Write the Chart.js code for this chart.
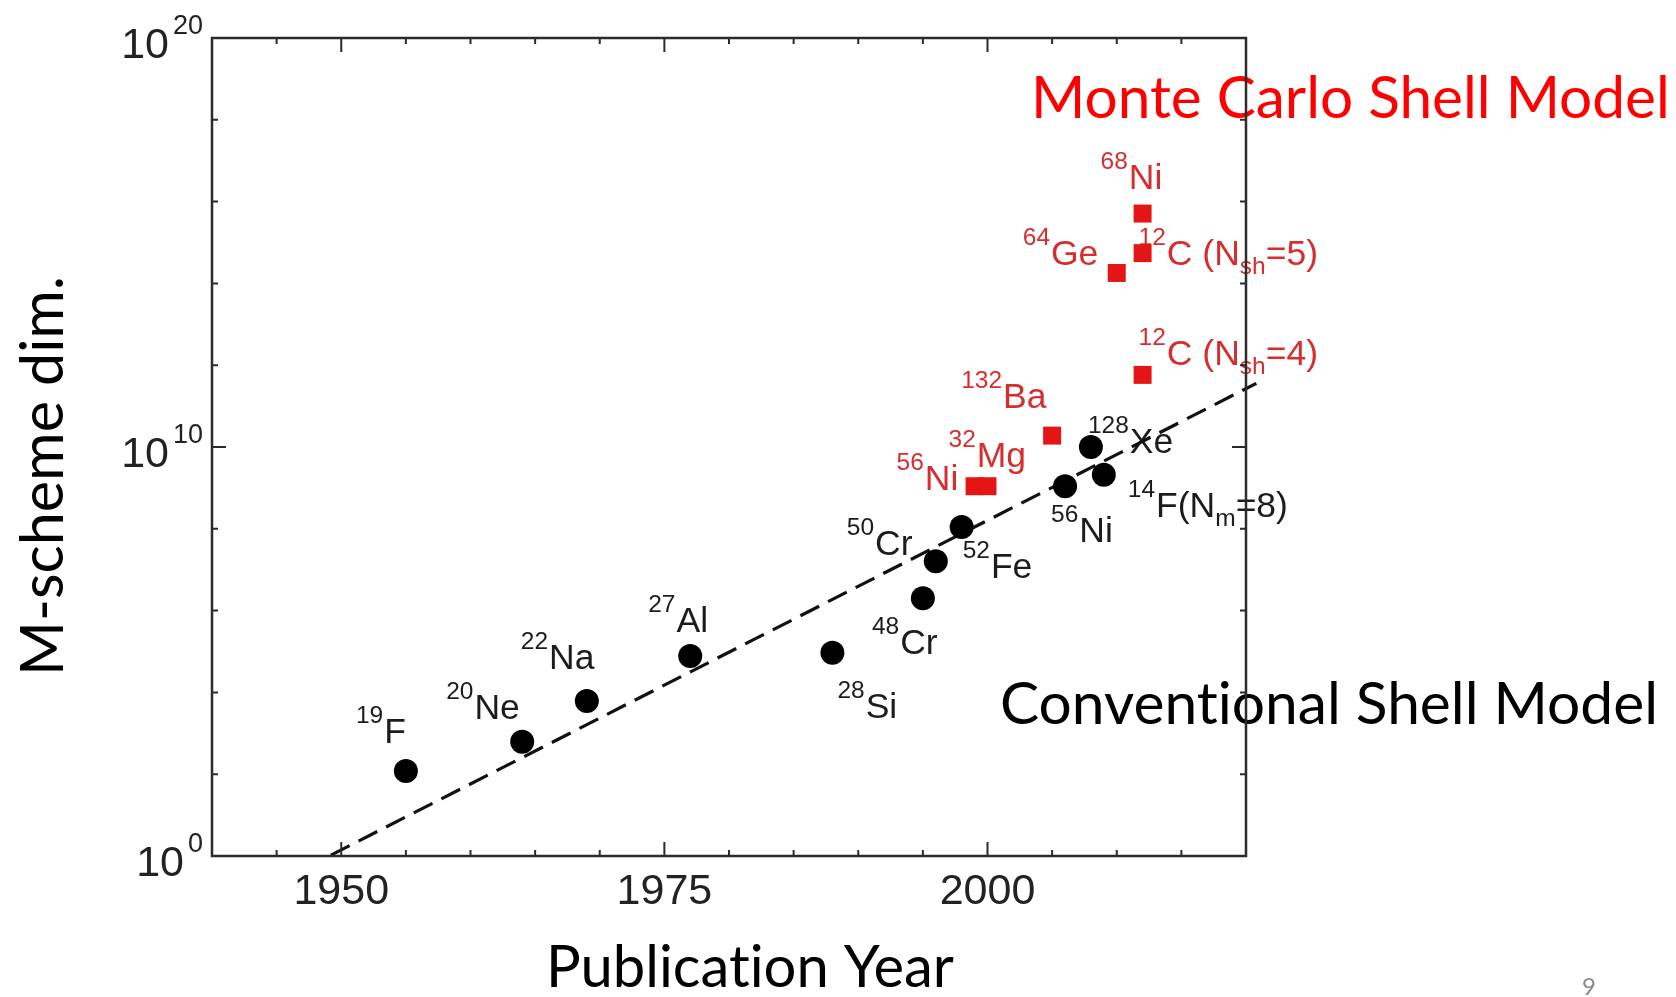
<!DOCTYPE html>
<html>
<head>
<meta charset="utf-8">
<title>M-scheme dimension vs publication year</title>
<script src="https://cdn.jsdelivr.net/npm/chart.js@4.4.1/dist/chart.umd.min.js"></script>
<style>
  html, body { margin: 0; padding: 0; background: #ffffff; }
  #wrap { width: 1676px; height: 997px; position: relative; }
  canvas { display: block; }
</style>
</head>
<body>
<div id="wrap"><canvas id="chart" width="1676" height="997"></canvas></div>
<script>
// ---- Conventional shell-model calculations (black circles) ----
const conventionalNuclei = ['^{19}F', '^{20}Ne', '^{22}Na', '^{27}Al', '^{28}Si', '^{48}Cr',
                            '^{50}Cr', '^{52}Fe', '^{56}Ni', '^{128}Xe', '^{14}F(N_{m}=8)'];
const conventionalYears  = [1955, 1964, 1969, 1977, 1988, 1995, 1996, 1998, 2006, 2008, 2009];
const conventionalDims   = [1.2e2, 6.2e2, 6.2e3, 7.8e4, 9.3e4, 2.0e6, 1.6e7, 1.1e8, 1.1e9, 1.0e10, 2.1e9];

// ---- Monte Carlo shell-model calculations (red squares) ----
const mcsmNuclei = ['^{56}Ni', '^{32}Mg', '^{132}Ba', '^{64}Ge', '^{12}C (N_{sh}=5)', '^{68}Ni', '^{12}C (N_{sh}=4)'];
const mcsmYears  = [1999, 2000, 2005, 2010, 2012, 2012, 2012];
const mcsmDims   = [1.1e9, 1.1e9, 1.9e10, 1.8e14, 5.5e14, 5.1e15, 5.8e11];

// ---- Exponential growth guide (dashed) ----
const trendYears = [1949.2, 2020.8];
const trendDims  = [1.05, 3.6e11];

// ---- Axis ticks ----
const xMajorTicks = [1950, 1975, 2000];
const xTickLabels = ['1950', '1975', '2000'];
const xMinorTicks = [1945, 1955, 1960, 1965, 1970, 1980, 1985, 1990, 1995, 2005, 2010, 2015];
const yMajorExponents = [0, 10, 20];
const yTickLabels = ['10', '10', '10'];
const yMinorExponents = [2, 4, 6, 8, 12, 14, 16, 18];

// ---- Label placement: pixel offset of each label from its marker ----
const conventionalLabelOffsets = [[-50, -28], [-76, -23], [-66, -32], [-42, -24], [5, 65], [-51, 56],
                                  [-89, -6], [1, 51], [-14, 56], [-3, 6], [24, 42]];
const mcsmLabelOffsets = [[-78, 4], [-39, -19], [-91, -28], [-94, -8], [-4, 12], [-42, -25], [-4, -10]];

const LABEL_FONT = '35.5px "Liberation Sans", Arial, sans-serif';
const SMALL_FONT = '24.5px "Liberation Sans", Arial, sans-serif';
const TICK_FONT = '43px "Liberation Sans", Arial, sans-serif';
const TICK_SUP_FONT = '27px "Liberation Sans", Arial, sans-serif';
const SLIDE_FAMILY = 'Lato, "Open Sans", sans-serif';

// Draws text with ^{..} superscripts and _{..} subscripts; (x, y) is the
// left edge and main baseline.
function drawRich(ctx, markup, x, y, color) {
  const re = /\^\{([^}]*)\}|_\{([^}]*)\}|([^\^_]+)/g;
  let m, cx = x;
  ctx.fillStyle = color;
  ctx.textAlign = 'left';
  ctx.textBaseline = 'alphabetic';
  while ((m = re.exec(markup)) !== null) {
    if (m[1] !== undefined) {
      ctx.font = SMALL_FONT;
      ctx.fillText(m[1], cx, y - 20);
      cx += ctx.measureText(m[1]).width + 1;
    } else if (m[2] !== undefined) {
      ctx.font = SMALL_FONT;
      ctx.fillText(m[2], cx, y + 9);
      cx += ctx.measureText(m[2]).width;
    } else {
      ctx.font = LABEL_FONT;
      ctx.fillText(m[3], cx, y);
      cx += ctx.measureText(m[3]).width;
    }
  }
}

// Splits text between "t" and "i" so the pair is drawn as two glyphs
// rather than Lato's "ti" ligature.
function pieces(text) {
  return text.replace(/ti/g, 't\u0000i').split('\u0000');
}

// Draws a line of slide text sized so that it spans the given width.
function drawFitted(ctx, text, x, y, width, color) {
  const parts = pieces(text);
  ctx.font = '100px ' + SLIDE_FAMILY;
  const total = parts.reduce((s, p) => s + ctx.measureText(p).width, 0);
  const size = 100 * width / total;
  ctx.font = size.toFixed(2) + 'px ' + SLIDE_FAMILY;
  ctx.fillStyle = color;
  ctx.textAlign = 'left';
  ctx.textBaseline = 'alphabetic';
  let cx = x;
  parts.forEach(p => {
    ctx.fillText(p, cx, y);
    cx += ctx.measureText(p).width;
  });
}

const decor = {
  id: 'decor',
  beforeDatasetsDraw(chart) {
    const ctx = chart.ctx;
    const xs = chart.scales.x, ys = chart.scales.y;
    ctx.save();

    // group captions
    drawFitted(ctx, 'Monte Carlo Shell Model', 1031, 118, 639, '#ff0000');
    drawFitted(ctx, 'Conventional Shell Model', 1000, 724, 658, '#000000');

    // axis titles
    drawFitted(ctx, 'Publication Year', 546, 987, 408, '#000000');
    ctx.save();
    ctx.translate(63, 676);
    ctx.rotate(-Math.PI / 2);
    drawFitted(ctx, 'M-scheme dim.', 0, 0, 400, '#000000');
    ctx.restore();

    // slide number
    ctx.font = '24px ' + SLIDE_FAMILY;
    ctx.fillStyle = '#8a8a8a';
    ctx.textAlign = 'left';
    ctx.fillText('9', 1582, 995);

    // x tick labels
    ctx.fillStyle = '#222222';
    ctx.font = TICK_FONT;
    ctx.textAlign = 'center';
    xMajorTicks.forEach((v, i) => {
      ctx.fillText(xTickLabels[i], xs.getPixelForValue(v), 904);
    });

    // y tick labels: 10 with a superscript exponent
    yMajorExponents.forEach((e, i) => {
      const py = ys.getPixelForValue(Math.pow(10, e));
      const sup = String(e);
      ctx.font = TICK_SUP_FONT;
      const supW = ctx.measureText(sup).width;
      const right = 203;
      ctx.textAlign = 'left';
      ctx.fillText(sup, right - supW, py - 4);
      ctx.font = TICK_FONT;
      ctx.textAlign = 'right';
      ctx.fillText(yTickLabels[i], right - supW - 4, py + 20);
    });

    // nucleus labels
    conventionalNuclei.forEach((lab, i) => {
      const px = xs.getPixelForValue(conventionalYears[i]);
      const py = ys.getPixelForValue(conventionalDims[i]);
      const [dx, dy] = conventionalLabelOffsets[i];
      drawRich(ctx, lab, px + dx, py + dy, '#1c1c1c');
    });
    mcsmNuclei.forEach((lab, i) => {
      const px = xs.getPixelForValue(mcsmYears[i]);
      const py = ys.getPixelForValue(mcsmDims[i]);
      const [dx, dy] = mcsmLabelOffsets[i];
      drawRich(ctx, lab, px + dx, py + dy, '#d62e2e');
    });
    ctx.restore();
  },
  afterDatasetsDraw(chart) {
    const ctx = chart.ctx;
    const { left, right, top, bottom } = chart.chartArea;
    const xs = chart.scales.x, ys = chart.scales.y;
    ctx.save();
    ctx.strokeStyle = '#2b2b2b';
    ctx.lineWidth = 2.5;
    ctx.strokeRect(left, top, right - left, bottom - top);

    const MAJOR = 14, MINOR = 6;
    ctx.lineWidth = 2;
    ctx.beginPath();
    const xTick = (v, len) => {
      const px = xs.getPixelForValue(v);
      ctx.moveTo(px, bottom); ctx.lineTo(px, bottom - len);
      ctx.moveTo(px, top); ctx.lineTo(px, top + len);
    };
    const yTick = (e, len) => {
      const py = ys.getPixelForValue(Math.pow(10, e));
      ctx.moveTo(left, py); ctx.lineTo(left + len, py);
      ctx.moveTo(right, py); ctx.lineTo(right - len, py);
    };
    xMajorTicks.forEach(v => xTick(v, MAJOR));
    xMinorTicks.forEach(v => xTick(v, MINOR));
    yMajorExponents.forEach(e => yTick(e, MAJOR));
    yMinorExponents.forEach(e => yTick(e, MINOR));
    ctx.stroke();
    ctx.restore();
  }
};

const toPoints = (xsArr, ysArr) => xsArr.map((x, i) => ({ x: x, y: ysArr[i] }));

new Chart(document.getElementById('chart').getContext('2d'), {
  type: 'scatter',
  data: {
    datasets: [
      {
        label: 'MCSM',
        data: toPoints(mcsmYears, mcsmDims),
        pointStyle: 'rect',
        pointRadius: 12.7,
        backgroundColor: '#e51515',
        borderWidth: 0,
        order: 0
      },
      {
        label: 'Conventional',
        data: toPoints(conventionalYears, conventionalDims),
        pointStyle: 'circle',
        pointRadius: 12,
        backgroundColor: '#000000',
        borderWidth: 0,
        order: 1
      },
      {
        label: 'Trend',
        data: toPoints(trendYears, trendDims),
        showLine: true,
        borderColor: '#111111',
        borderWidth: 3.2,
        borderDash: [21, 10],
        pointRadius: 0,
        clip: false,
        order: 2
      }
    ]
  },
  options: {
    responsive: false,
    devicePixelRatio: 1,
    animation: false,
    events: [],
    layout: { padding: { left: 212, right: 430, top: 38, bottom: 141 } },
    scales: {
      x: { type: 'linear', min: 1940, max: 2020, display: false },
      y: { type: 'logarithmic', min: 1, max: 1e20, display: false }
    },
    plugins: { legend: { display: false }, tooltip: { enabled: false } }
  },
  plugins: [decor]
});
</script>
</body>
</html>
